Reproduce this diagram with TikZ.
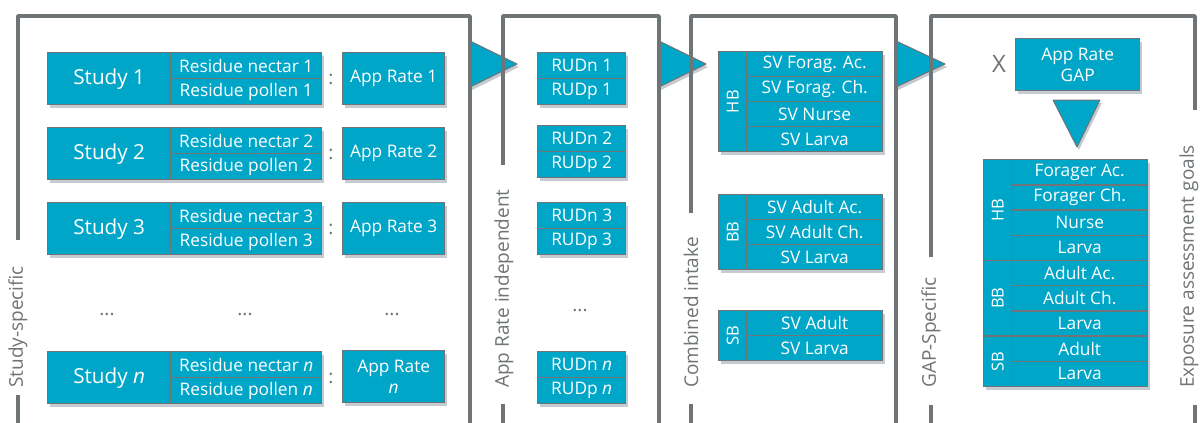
\documentclass[tikz,border=0pt]{standalone}
\usepackage{fontspec}
\usepackage{graphicx}
\setmainfont{Open Sans}
\usetikzlibrary{shadows}
\definecolor{cy}{RGB}{0,166,200}
\definecolor{gr}{RGB}{111,116,119}
\definecolor{sh}{RGB}{198,202,209}
\tikzset{
  cbox/.style={draw=gr, line width=1.4pt, fill=cy, text=white, inner sep=0pt, anchor=north west, align=center,
    drop shadow={shadow xshift=2.5pt, shadow yshift=-3pt, fill=sh, opacity=1}},
  fstudy/.style={font=\fontsize{20.7}{22}\selectfont},
  fres/.style={font=\fontsize{17.3}{18}\selectfont},
  fapp/.style={font=\fontsize{17.3}{21}\selectfont},
  fvert/.style={font=\fontsize{16.5}{17}\selectfont},
  frame/.style={draw=gr, line width=3.5pt, line join=round},
  lbl/.style={text=gr, rotate=90, anchor=west, inner sep=0pt, font=\fontsize{19}{20}\selectfont},
  gtext/.style={text=gr, inner sep=0pt},
  tri/.style={fill=cy, draw=gr, line width=1pt, line join=round},
  trish/.style={fill=sh},
}
\begin{document}
\begin{tikzpicture}[x=1pt,y=-1pt]
\useasboundingbox (0,0) rectangle (1200,423);
\clip (0,0) rectangle (1200,423);
\fill[white] (0,0) rectangle (1200,423);

% triangles (under frames)
\foreach \a/\t in {470/517, 659/706, 896/945} {
  \fill[trish] (\a+2,44) -- (\t+2,67) -- (\a+2,90) -- cycle;
  \filldraw[tri] (\a,41) -- (\t,64) -- (\a,87) -- cycle;
}
\fill[trish] (1055,103) -- (1102,103) -- (1079,150) -- cycle;
\filldraw[tri] (1053,100) -- (1100,100) -- (1077,147) -- cycle;

% frames
\draw[frame] (18,240) -- (18,16) -- (470,16) -- (470,430);
\draw[frame] (18,395) -- (18,430);
\draw[frame] (503,165) -- (503,16) -- (659,16) -- (659,430);
\draw[frame] (503,404) -- (503,430);
\draw[frame] (691,213) -- (691,16) -- (896,16) -- (896,430);
\draw[frame] (691,404) -- (691,430);
\draw[frame] (931,257) -- (931,16) -- (1195,16) -- (1195,110);
\draw[frame] (931,405) -- (931,430);
\draw[frame] (1195,405) -- (1195,430);

% frame labels
\node[lbl] (l1) at (18,388) {Study-specific};
\node[lbl] (l2) at (504,388) {App Rate independent};
\node[lbl] (l3) at (691,388) {Combined intake};
\node[lbl] (l4) at (931,388) {GAP-Specific};
\node[lbl] (l5) at (1189,388) {Exposure assessment goals};

% panel 1
\foreach \i/\y/\k in {1/52/1, 2/127/2, 3/202/3} {
  \node[cbox, fstudy, minimum width=123pt, minimum height=52pt] (s\i) at (47,\y) {Study \k};
  \node[cbox, fres, minimum width=151pt, minimum height=26pt] (rn\i) at (170,\y) {Residue nectar \k};
  \node[cbox, fres, minimum width=151pt, minimum height=26pt] (rp\i) at (170,\y+26) {Residue pollen \k};
  \node[gtext, font=\fontsize{19}{19}\selectfont] (c\i) at (331,\y+27) {:};
  \node[cbox, fapp, minimum width=102pt, minimum height=52pt] (a\i) at (342,\y) {App Rate \k};
}
\node[cbox, fstudy, minimum width=123pt, minimum height=52pt] (sn) at (47,351) {Study \textit{n}};
\node[cbox, fres, minimum width=151pt, minimum height=26pt] (rnn) at (170,351) {Residue nectar \textit{n}};
\node[cbox, fres, minimum width=151pt, minimum height=26pt] (rpn) at (170,377) {Residue pollen \textit{n}};
\node[gtext, font=\fontsize{19}{19}\selectfont] (cn) at (331,378) {:};
\node[cbox, fapp, minimum width=102pt, minimum height=52pt] (an) at (342,350) {App Rate\\\textit{n}};
\node[gtext, font=\fontsize{19}{19}\selectfont] (d1) at (107,315) {...};
\node[gtext, font=\fontsize{19}{19}\selectfont] (d2) at (245,315) {...};
\node[gtext, font=\fontsize{19}{19}\selectfont] (d3) at (392,315) {...};

% panel 2
\foreach \i/\y/\k in {1/52/1, 2/125/2, 3/202/3} {
  \node[cbox, fapp, minimum width=88pt, minimum height=26pt] (un\i) at (537,\y) {RUDn \k};
  \node[cbox, fapp, minimum width=88pt, minimum height=26pt] (up\i) at (537,\y+26) {RUDp \k};
}
\node[cbox, fapp, minimum width=88pt, minimum height=26pt] (unn) at (537,351) {RUDn \textit{n}};
\node[cbox, fapp, minimum width=88pt, minimum height=26pt] (upn) at (537,377) {RUDp \textit{n}};
\node[gtext, font=\fontsize{19}{19}\selectfont] (d4) at (580,311) {...};

% panel 3
\node[cbox, fvert, minimum width=28pt, minimum height=100pt] (hb) at (718,51) {\rotatebox{90}{HB}};
\node[cbox, fres, minimum width=136pt, minimum height=25pt] (h1) at (746,51) {SV Forag. Ac.};
\node[cbox, fres, minimum width=136pt, minimum height=25pt] (h2) at (746,76) {SV Forag. Ch.};
\node[cbox, fres, minimum width=136pt, minimum height=25pt] (h3) at (746,101) {SV Nurse};
\node[cbox, fres, minimum width=136pt, minimum height=25pt] (h4) at (746,126) {SV Larva};
\node[cbox, fvert, minimum width=28pt, minimum height=75pt] (bb) at (718,194) {\rotatebox{90}{BB}};
\node[cbox, fres, minimum width=136pt, minimum height=25pt] (b1) at (746,194) {SV Adult Ac.};
\node[cbox, fres, minimum width=136pt, minimum height=25pt] (b2) at (746,219) {SV Adult Ch.};
\node[cbox, fres, minimum width=136pt, minimum height=25pt] (b3) at (746,244) {SV Larva};
\node[cbox, fvert, minimum width=28pt, minimum height=50pt] (sb) at (718,310) {\rotatebox{90}{SB}};
\node[cbox, fres, minimum width=136pt, minimum height=25pt] (sb1) at (746,310) {SV Adult};
\node[cbox, fres, minimum width=136pt, minimum height=25pt] (sb2) at (746,335) {SV Larva};

% panel 4
\node[gtext, font=\fontsize{24}{24}\selectfont] (x) at (999,64) {X};
\node[cbox, fapp, minimum width=124pt, minimum height=52pt] (gap) at (1015,38) {App Rate\\GAP};
\node[cbox, fvert, minimum width=28pt, minimum height=100.8pt] (thb) at (983,159) {\rotatebox{90}{HB}};
\node[cbox, fvert, minimum width=28pt, minimum height=75.6pt] (tbb) at (983,259.8) {\rotatebox{90}{BB}};
\node[cbox, fvert, minimum width=28pt, minimum height=50.4pt] (tsb) at (983,335.4) {\rotatebox{90}{SB}};
\foreach \j/\t in {0/Forager Ac., 1/Forager Ch., 2/Nurse, 3/Larva, 4/Adult Ac., 5/Adult Ch., 6/Larva, 7/Adult, 8/Larva} {
  \node[cbox, fres, minimum width=136pt, minimum height=25.2pt] (t\j) at (1011,159+25.2*\j) {\t};
}
\end{tikzpicture}
\end{document}
